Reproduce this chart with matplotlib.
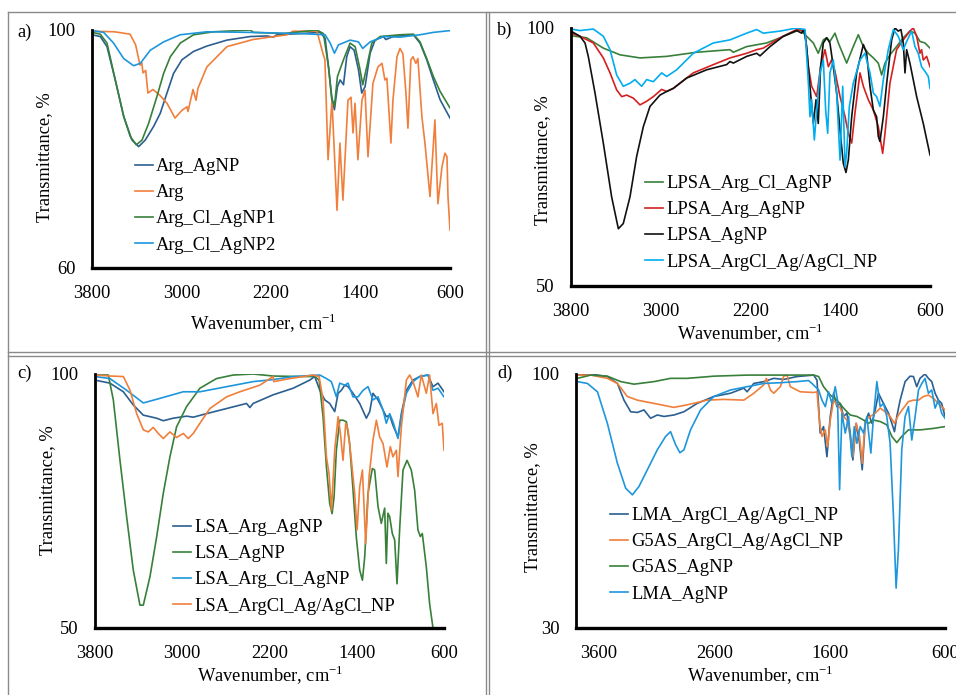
import matplotlib
matplotlib.use("Agg")
import matplotlib.pyplot as plt
from matplotlib.lines import Line2D

plt.rcParams['font.family'] = ['Liberation Serif', 'DejaVu Serif']
plt.rcParams['mathtext.fontset'] = 'custom'
plt.rcParams['mathtext.rm'] = 'Liberation Serif'

W, H = 956, 695

DBLUE = '#2B5F91'
ORANGE = '#F07F3C'
GREEN = '#38803A'
LBLUE = '#1E96DC'
CYAN = '#00AEEF'
RED = '#D42020'
BLACK = '#111111'

# ---------------- panel a ----------------
a_wn_arg_agnp = [3800, 3726, 3666, 3592, 3517, 3443, 3383, 3324, 3249, 3190, 3130, 3071, 2996, 2892,
                 2773, 2594, 2386, 2237, 2178, 2148, 1939, 1761, 1716, 1686, 1657, 1633, 1606, 1582,
                 1552, 1523, 1493, 1457, 1418, 1389, 1359, 1314, 1270, 1195, 1174, 1106, 927, 868,
                 808, 749, 689, 600]
a_t_arg_agnp = [99.2, 98.9, 97.2, 91.6, 85.5, 81.5, 80.4, 81.5, 83.8, 86.0, 89.4, 92.7, 95.0, 96.4,
                97.3, 98.3, 98.9, 99.0, 98.8, 99.2, 99.4, 99.6, 98.6, 93.8, 88.8, 86.6, 90.5, 91.6,
                90.8, 95.5, 97.2, 96.6, 93.3, 89.4, 90.5, 96.1, 98.3, 98.9, 98.4, 98.9, 99.2, 97.8,
                95.0, 91.6, 88.3, 85.2]

a_wn_arg = [3800, 3600, 3460, 3410, 3371, 3355, 3344, 3320, 3300, 3255, 3192, 3130, 3058, 2996,
            2951, 2942, 2897, 2870, 2853, 2773, 2594, 2361, 2057, 2004, 1789, 1735, 1718, 1690,
            1655, 1610, 1584, 1557, 1512, 1485, 1467, 1449, 1423, 1387, 1360, 1333, 1289, 1244,
            1208, 1182, 1164, 1128, 1110, 1074, 1047, 1021, 994, 976, 950, 931, 905, 887, 851,
            824, 779, 752, 735, 708, 672, 645, 627, 618, 600]
a_t_arg = [99.8, 99.7, 99.3, 97.5, 94.1, 94.5, 92.8, 93.2, 89.4, 90.0, 89.0, 87.7, 85.2, 86.5,
           87.1, 86.3, 90.0, 88.2, 90.2, 93.8, 97.2, 98.4, 99.2, 99.8, 99.8, 96.0, 95.0, 78.2,
           88.2, 69.7, 81.0, 71.4, 88.2, 88.7, 82.7, 87.7, 78.2, 88.2, 89.9, 78.7, 91.0, 93.8,
           94.4, 91.6, 91.9, 81.0, 88.2, 95.5, 96.9, 96.0, 89.4, 83.5, 95.0, 95.5, 94.4, 95.2,
           85.4, 81.0, 72.0, 79.8, 84.9, 70.8, 77.0, 79.3, 78.7, 72.0, 66.4]

a_wn_cl1 = [3800, 3726, 3666, 3592, 3517, 3458, 3404, 3353, 3294, 3220, 3160, 3100, 3011, 2892,
            2713, 2386, 2356, 2088, 1939, 1791, 1731, 1686, 1657, 1633, 1606, 1552, 1493, 1448,
            1409, 1380, 1344, 1299, 1225, 1046, 927, 868, 808, 749, 689, 600]
a_t_cl1 = [99.6, 99.3, 97.8, 91.6, 85.5, 82.1, 80.7, 81.5, 84.3, 88.8, 92.7, 95.5, 97.8, 99.2,
           99.7, 100.0, 99.6, 99.4, 99.7, 100.0, 99.4, 93.8, 88.3, 87.2, 92.2, 95.0, 97.8, 97.2,
           93.8, 90.8, 93.8, 97.8, 98.9, 99.2, 99.3, 98.0, 95.2, 92.2, 89.7, 86.9]

a_wn_cl2 = [3800, 3696, 3607, 3517, 3428, 3368, 3279, 3160, 3011, 2773, 2386, 1939, 1716, 1671,
            1633, 1597, 1493, 1418, 1380, 1314, 1195, 1046, 868, 749, 600]
a_t_cl2 = [99.9, 99.6, 97.8, 95.2, 94.0, 94.4, 96.6, 98.0, 99.2, 99.7, 99.6, 99.4, 99.2, 97.8,
           96.1, 97.5, 98.3, 98.0, 96.9, 98.0, 98.9, 98.8, 99.2, 99.6, 99.9]

# ---------------- panel b ----------------
b_wn_agnp = [3800, 3720, 3675, 3646, 3586, 3512, 3438, 3378, 3334, 3274, 3215, 3155, 3096, 3007,
             2947, 2888, 2769, 2591, 2413, 2383, 2353, 2234, 2145, 2115, 2026, 1907, 1789, 1744,
             1723, 1700, 1670, 1640, 1616, 1596, 1575, 1551, 1521, 1492, 1462, 1432, 1402, 1373,
             1349, 1328, 1298, 1254, 1194, 1165, 1135, 1105, 1076, 1061, 1046, 1016, 986, 942,
             912, 883, 859, 838, 823, 808, 779, 719, 660, 600]
b_t_agnp = [99.4, 98.4, 97.1, 94.5, 87.4, 77.7, 67.3, 61.1, 62.1, 67.3, 75.1, 80.9, 84.8, 87.0,
            87.7, 88.3, 90.3, 91.9, 92.9, 93.5, 93.2, 94.5, 95.1, 94.6, 96.4, 98.4, 99.5, 99.0,
            99.7, 96.4, 88.7, 81.5, 86.1, 81.5, 92.5, 97.1, 98.1, 97.1, 92.5, 87.4, 80.2, 73.8,
            72.0, 74.4, 82.8, 91.3, 96.8, 95.1, 88.7, 84.1, 82.8, 79.0, 78.0, 82.8, 89.3, 97.7,
            100.0, 99.4, 99.7, 97.1, 91.3, 95.8, 93.2, 86.7, 81.5, 75.4]

b_wn_arg = [3800, 3720, 3601, 3512, 3452, 3393, 3348, 3304, 3244, 3185, 3126, 3066, 2992, 2947,
            2888, 2710, 2531, 2383, 2234, 2145, 2086, 1937, 1789, 1714, 1684, 1655, 1610, 1575,
            1536, 1506, 1477, 1447, 1402, 1357, 1328, 1298, 1269, 1224, 1194, 1150, 1105, 1061,
            1022, 1001, 957, 898, 838, 779, 749, 719, 690, 675, 660, 630, 600]
b_t_arg = [99.0, 98.4, 97.1, 94.2, 91.3, 88.0, 86.7, 87.0, 86.4, 85.1, 85.8, 86.7, 88.1, 87.7,
           88.3, 91.3, 92.9, 94.2, 95.1, 95.8, 96.1, 98.1, 99.7, 99.4, 92.5, 88.7, 86.7, 92.5,
           95.8, 92.5, 93.8, 91.6, 86.7, 82.8, 79.6, 77.7, 83.5, 91.3, 88.7, 86.1, 84.1, 80.9,
           75.7, 79.6, 89.3, 95.8, 97.7, 99.4, 100.0, 98.4, 95.1, 95.8, 93.8, 94.5, 92.5]

b_wn_cl = [3800, 3660, 3512, 3363, 3185, 2947, 2680, 2383, 2353, 2234, 2056, 1937, 1759, 1700,
           1640, 1596, 1551, 1521, 1492, 1447, 1417, 1343, 1284, 1239, 1194, 1150, 1105, 1061,
           1031, 1001, 957, 898, 838, 779, 734, 690, 645, 600]
b_t_cl = [98.5, 98.1, 96.1, 94.8, 94.2, 94.5, 95.3, 95.8, 95.3, 96.4, 97.1, 98.1, 99.7, 98.4,
          97.1, 95.1, 97.7, 98.1, 97.4, 99.0, 97.1, 93.2, 96.4, 98.7, 96.4, 95.1, 94.2, 93.2,
          90.9, 93.2, 94.8, 96.4, 98.1, 99.4, 99.0, 97.4, 97.1, 96.1]

b_wn_agcl = [3800, 3720, 3601, 3512, 3452, 3393, 3334, 3274, 3230, 3170, 3126, 3066, 2992, 2947,
             2858, 2710, 2531, 2383, 2234, 2145, 2086, 1937, 1789, 1714, 1684, 1670, 1655, 1631,
             1610, 1580, 1551, 1530, 1512, 1492, 1462, 1432, 1402, 1378, 1357, 1343, 1319, 1284,
             1224, 1180, 1135, 1105, 1076, 1046, 1016, 972, 927, 883, 838, 808, 764, 734, 705,
             675, 645, 615, 600]
b_t_agcl = [99.8, 99.5, 99.8, 98.4, 95.8, 90.9, 88.7, 89.3, 90.0, 88.7, 90.0, 89.6, 91.3, 90.6,
            91.9, 95.1, 97.1, 97.7, 99.0, 99.7, 99.0, 99.4, 100.0, 99.7, 89.3, 82.8, 86.1, 78.3,
            84.1, 91.3, 93.8, 84.1, 79.6, 91.3, 93.8, 87.4, 74.4, 88.7, 73.1, 75.7, 84.8, 89.3,
            93.8, 95.1, 91.3, 87.4, 86.7, 84.8, 90.0, 95.8, 99.7, 98.4, 95.8, 97.4, 99.4, 96.4,
            95.1, 92.5, 91.6, 90.6, 88.3]

# ---------------- panel c ----------------
c_wn_arg = [3800, 3663, 3540, 3449, 3357, 3235, 3174, 3083, 2960, 2899, 2777, 2594, 2411, 2380,
            2350, 2167, 1983, 1831, 1785, 1739, 1693, 1648, 1602, 1571, 1541, 1510, 1480, 1434,
            1373, 1312, 1281, 1251, 1205, 1159, 1129, 1098, 1068, 1022, 991, 945, 884, 823, 747,
            701, 655, 600]
c_t_arg = [98.8, 98.2, 96.5, 93.9, 91.9, 91.3, 90.8, 91.3, 91.7, 91.5, 92.2, 93.2, 94.2, 93.4,
           94.2, 95.9, 97.2, 98.8, 99.5, 96.8, 94.9, 94.2, 92.6, 96.2, 96.8, 97.8, 97.5, 96.2,
           94.2, 91.3, 92.6, 96.2, 94.9, 92.9, 91.6, 91.9, 89.9, 87.6, 92.2, 96.8, 98.8, 99.5,
           99.8, 97.5, 98.2, 96.5]

c_wn_agnp = [3800, 3678, 3632, 3571, 3510, 3449, 3388, 3357, 3296, 3235, 3174, 3113, 3052, 2960,
             2838, 2686, 2533, 2350, 2167, 1922, 1785, 1745, 1709, 1678, 1648, 1626, 1608, 1587,
             1556, 1526, 1495, 1465, 1434, 1404, 1373, 1348, 1327, 1297, 1257, 1236, 1205, 1175,
             1144, 1129, 1114, 1098, 1074, 1052, 1031, 1007, 976, 939, 900, 869, 839, 817, 799,
             762, 732, 701, 660]
c_t_agnp = [99.8, 99.8, 94.9, 83.0, 71.9, 61.4, 54.5, 54.5, 60.1, 67.9, 76.5, 83.7, 89.6, 93.6,
            97.2, 99.1, 99.8, 100.0, 99.6, 99.5, 99.5, 98.8, 91.6, 81.7, 74.5, 72.5, 75.8, 85.0,
            90.9, 90.9, 90.6, 86.3, 77.1, 67.9, 61.4, 59.4, 64.0, 76.5, 81.4, 81.1, 73.9, 70.6,
            73.6, 62.7, 72.6, 71.9, 68.6, 67.3, 58.7, 69.3, 81.1, 83.0, 81.1, 77.1, 69.3, 68.0,
            68.6, 62.0, 54.8, 50.0, 46.0]

c_wn_cl = [3800, 3663, 3510, 3357, 3205, 2991, 2838, 2594, 2350, 2167, 1983, 1739, 1678, 1633,
           1587, 1556, 1510, 1480, 1434, 1388, 1342, 1297, 1251, 1205, 1159, 1129, 1098, 1068,
           1022, 991, 945, 884, 823, 747, 701, 655, 600]
c_t_cl = [99.5, 99.1, 96.8, 94.3, 95.2, 96.5, 96.5, 97.5, 98.5, 98.9, 99.5, 99.8, 99.1, 98.5,
          95.5, 98.2, 97.8, 98.2, 95.5, 95.5, 96.8, 97.5, 94.9, 95.5, 92.9, 90.3, 92.2, 90.6,
          87.3, 91.6, 96.2, 98.5, 99.5, 99.8, 96.8, 97.2, 95.5]

c_wn_agcl = [3800, 3663, 3540, 3479, 3418, 3357, 3311, 3266, 3220, 3174, 3113, 3052, 2991, 2945,
             2899, 2838, 2747, 2594, 2472, 2289, 2167, 2160, 2014, 1800, 1745, 1709, 1678, 1654,
             1632, 1602, 1571, 1550, 1526, 1501, 1480, 1449, 1419, 1397, 1373, 1348, 1318, 1287,
             1251, 1220, 1190, 1159, 1123, 1092, 1068, 1037, 1022, 991, 945, 915, 884, 839, 808,
             762, 732, 701, 670, 646, 616, 600]
c_t_agcl = [99.8, 99.6, 99.5, 96.8, 92.2, 89.0, 88.6, 89.5, 88.3, 87.3, 88.6, 87.5, 88.3, 87.3,
            88.3, 90.3, 93.2, 95.5, 96.5, 97.8, 99.5, 98.5, 99.1, 99.8, 99.5, 94.9, 83.7, 80.4,
            73.2, 85.0, 91.6, 88.3, 83.0, 90.3, 89.0, 83.0, 76.5, 69.3, 77.8, 81.1, 66.6, 79.8,
            87.0, 90.9, 87.6, 86.3, 81.7, 85.7, 83.7, 85.0, 79.8, 89.6, 98.8, 99.8, 98.5, 95.5,
            99.8, 96.2, 99.8, 92.2, 94.2, 89.9, 90.3, 85.0]

# ---------------- panel d ----------------
d_wn_lma_agcl = [3788, 3672, 3528, 3441, 3384, 3326, 3268, 3211, 3153, 3095, 3037, 2951, 2864,
                 2749, 2605, 2460, 2345, 2316, 2258, 2172, 2085, 1999, 1883, 1739, 1710, 1682,
                 1653, 1624, 1595, 1566, 1537, 1508, 1480, 1451, 1422, 1399, 1370, 1341, 1318,
                 1292, 1263, 1234, 1205, 1177, 1148, 1119, 1090, 1061, 1038, 1018, 989, 946, 903,
                 874, 845, 817, 773, 744, 715, 686, 657, 629, 600]
d_t_lma_agcl = [99.7, 100.0, 99.3, 97.4, 92.8, 89.6, 89.4, 90.1, 87.8, 88.7, 88.3, 88.7, 89.6,
                91.9, 93.8, 94.7, 96.1, 95.1, 97.4, 97.9, 98.8, 98.5, 99.3, 99.7, 98.3, 83.7,
                85.5, 77.2, 88.3, 94.7, 91.0, 91.9, 88.3, 89.2, 83.7, 76.3, 86.4, 80.9, 73.6,
                86.4, 89.2, 86.4, 90.1, 94.7, 92.8, 91.0, 89.2, 86.4, 84.1, 88.3, 92.8, 97.9,
                99.4, 99.3, 96.5, 98.8, 100.0, 98.8, 97.9, 94.7, 92.8, 91.9, 88.3]

d_wn_g5_agcl = [3788, 3672, 3528, 3441, 3355, 3268, 3124, 2951, 2836, 2662, 2518, 2345, 2258,
                2172, 2149, 2114, 2085, 2028, 1999, 1970, 1941, 1855, 1739, 1710, 1687, 1667,
                1638, 1618, 1595, 1566, 1537, 1508, 1480, 1451, 1422, 1399, 1370, 1341, 1318,
                1292, 1249, 1205, 1162, 1119, 1076, 1038, 1004, 960, 917, 874, 830, 787, 744,
                701, 657, 629, 600]
d_t_g5_agcl = [99.7, 99.7, 98.8, 97.4, 93.8, 92.8, 91.9, 90.8, 91.5, 92.8, 93.0, 92.8, 94.7,
               97.0, 98.8, 95.6, 94.7, 96.5, 99.4, 99.7, 96.5, 95.1, 94.9, 95.1, 86.4, 82.8,
               84.6, 80.0, 87.3, 92.8, 91.5, 90.6, 88.3, 87.3, 82.8, 77.2, 86.4, 82.8, 75.4,
               87.3, 88.3, 89.2, 90.6, 89.6, 88.3, 86.4, 88.7, 90.6, 92.4, 92.8, 92.8, 93.8,
               94.2, 93.3, 91.9, 91.0, 90.1]

d_wn_g5_agnp = [3788, 3672, 3528, 3412, 3297, 3124, 2980, 2836, 2605, 2316, 2028, 1739, 1696,
                1653, 1595, 1537, 1480, 1422, 1364, 1306, 1263, 1220, 1162, 1105, 1061, 1018,
                975, 917, 817, 701, 600]
d_t_g5_agnp = [98.8, 99.7, 99.4, 97.9, 97.2, 97.9, 98.8, 98.8, 99.4, 99.7, 99.7, 99.7, 99.3,
               96.5, 94.2, 92.8, 90.6, 88.7, 88.3, 87.3, 86.4, 87.3, 86.9, 86.0, 82.8, 81.1,
               82.8, 84.6, 84.6, 85.0, 85.5]

d_wn_lma_agnp = [3788, 3701, 3614, 3528, 3441, 3369, 3311, 3254, 3167, 3095, 3023, 2980, 2936,
                 2899, 2864, 2807, 2720, 2605, 2460, 2316, 2172, 2028, 1883, 1783, 1754, 1725,
                 1696, 1667, 1638, 1610, 1581, 1552, 1532, 1514, 1494, 1465, 1436, 1408, 1387,
                 1364, 1335, 1306, 1278, 1243, 1220, 1191, 1162, 1133, 1105, 1076, 1047, 1024,
                 1004, 975, 946, 917, 888, 859, 830, 801, 773, 744, 715, 686, 657, 629, 600]
d_t_lma_agnp = [97.9, 97.4, 95.1, 86.4, 75.4, 68.5, 66.7, 69.0, 74.5, 79.1, 82.8, 84.1, 80.5,
                78.3, 79.1, 84.6, 90.1, 93.8, 95.6, 96.5, 97.4, 97.6, 97.9, 98.2, 97.4, 96.5,
                95.6, 92.8, 91.0, 95.1, 91.9, 96.5, 92.8, 68.1, 89.2, 83.7, 88.3, 77.2, 85.5,
                80.9, 85.5, 83.7, 88.3, 78.2, 88.3, 97.9, 91.0, 91.9, 88.3, 80.9, 60.7, 41.0,
                51.6, 79.1, 88.3, 91.0, 81.8, 88.3, 95.6, 97.4, 98.8, 94.7, 95.6, 90.6, 92.8,
                89.2, 87.8]

panels = [
    dict(box=(92, 30, 450, 268), ylim=(60, 100), xticks=[3800, 3000, 2200, 1400, 600],
         letter='a)', letter_xy=(17, 32), ylab_xy=(45, 157), xlab_xy=(263, 323),
         leg_xy=(135, 158),
         series=[(a_wn_arg_agnp, a_t_arg_agnp, DBLUE, 'Arg_AgNP'),
                 (a_wn_arg, a_t_arg, ORANGE, 'Arg'),
                 (a_wn_cl1, a_t_cl1, GREEN, 'Arg_Cl_AgNP1'),
                 (a_wn_cl2, a_t_cl2, LBLUE, 'Arg_Cl_AgNP2')]),
    dict(box=(571, 28, 930, 286), ylim=(50, 100), xticks=[3800, 3000, 2200, 1400, 600],
         letter='b)', letter_xy=(497, 30), ylab_xy=(543, 160), xlab_xy=(750, 333),
         leg_xy=(645, 175),
         series=[(b_wn_cl, b_t_cl, GREEN, 'LPSA_Arg_Cl_AgNP'),
                 (b_wn_arg, b_t_arg, RED, 'LPSA_Arg_AgNP'),
                 (b_wn_agnp, b_t_agnp, BLACK, 'LPSA_AgNP'),
                 (b_wn_agcl, b_t_agcl, CYAN, 'LPSA_ArgCl_Ag/AgCl_NP')]),
    dict(box=(95, 374, 444, 628), ylim=(50, 100), xticks=[3800, 3000, 2200, 1400, 600],
         letter='c)', letter_xy=(17, 373), ylab_xy=(48, 490), xlab_xy=(270, 675),
         leg_xy=(173, 519),
         series=[(c_wn_arg, c_t_arg, DBLUE, 'LSA_Arg_AgNP'),
                 (c_wn_agnp, c_t_agnp, GREEN, 'LSA_AgNP'),
                 (c_wn_cl, c_t_cl, LBLUE, 'LSA_Arg_Cl_AgNP'),
                 (c_wn_agcl, c_t_agcl, ORANGE, 'LSA_ArgCl_Ag/AgCl_NP')]),
    dict(box=(576, 374, 945, 628), ylim=(30, 100), xticks=[3600, 2600, 1600, 600],
         letter='d)', letter_xy=(497, 373), ylab_xy=(533, 507), xlab_xy=(760, 675),
         leg_xy=(610, 507),
         series=[(d_wn_lma_agcl, d_t_lma_agcl, DBLUE, 'LMA_ArgCl_Ag/AgCl_NP'),
                 (d_wn_g5_agcl, d_t_g5_agcl, ORANGE, 'G5AS_ArgCl_Ag/AgCl_NP'),
                 (d_wn_g5_agnp, d_t_g5_agnp, GREEN, 'G5AS_AgNP'),
                 (d_wn_lma_agnp, d_t_lma_agnp, LBLUE, 'LMA_AgNP')]),
]


def fx(px):
    return px / W


def fy(py):
    return 1 - py / H


fig = plt.figure(figsize=(W / 100, H / 100), dpi=100)
FS = 13.3

for p in panels:
    x0, y0, x1, y1 = p['box']
    ax = fig.add_axes([fx(x0), fy(y1), (x1 - x0) / W, (y1 - y0) / H])
    for wn, t, c, lab in p['series']:
        ax.plot(wn, t, color=c, lw=1.2, label=lab)
    ax.set_xlim(3800, 600)
    ax.set_ylim(*p['ylim'])
    ax.set_xticks(p['xticks'])
    ax.set_yticks(list(p['ylim']))
    ax.tick_params(length=0, labelsize=FS, pad=12)
    ax.spines['top'].set_visible(False)
    ax.spines['right'].set_visible(False)
    ax.spines['left'].set_linewidth(2.0)
    ax.spines['bottom'].set_linewidth(2.4)
    ax.patch.set_visible(False)
    lx, ly = p['leg_xy']
    ax.legend(loc='upper left', bbox_to_anchor=(fx(lx), fy(ly)),
              bbox_transform=fig.transFigure, frameon=False, fontsize=FS,
              borderpad=0, borderaxespad=0, handlelength=1.0, handletextpad=0.15,
              labelspacing=0.5)
    fig.text(fx(p['letter_xy'][0]), fy(p['letter_xy'][1]), p['letter'],
             fontsize=FS, ha='left', va='center')
    fig.text(fx(p['ylab_xy'][0]), fy(p['ylab_xy'][1]), 'Transmittance, %',
             fontsize=FS, rotation=90, ha='center', va='center')
    fig.text(fx(p['xlab_xy'][0]), fy(p['xlab_xy'][1]), 'Wavenumber, cm$^{\\mathrm{-1}}$',
             fontsize=FS, ha='center', va='center')

# table borders
GRAY = '#8a8a8a'
for xs, ys in [((8, W), (12, 12)), ((8, 8), (12, H)),
               ((486, 486), (12, H)), ((489, 489), (12, H)),
               ((8, W), (352.5, 352.5)), ((8, W), (355.5, 355.5))]:
    fig.add_artist(Line2D([fx(xs[0]), fx(xs[1])], [fy(ys[0]), fy(ys[1])],
                          transform=fig.transFigure, color=GRAY, lw=1.0))

fig.savefig('out.png', dpi=100)
